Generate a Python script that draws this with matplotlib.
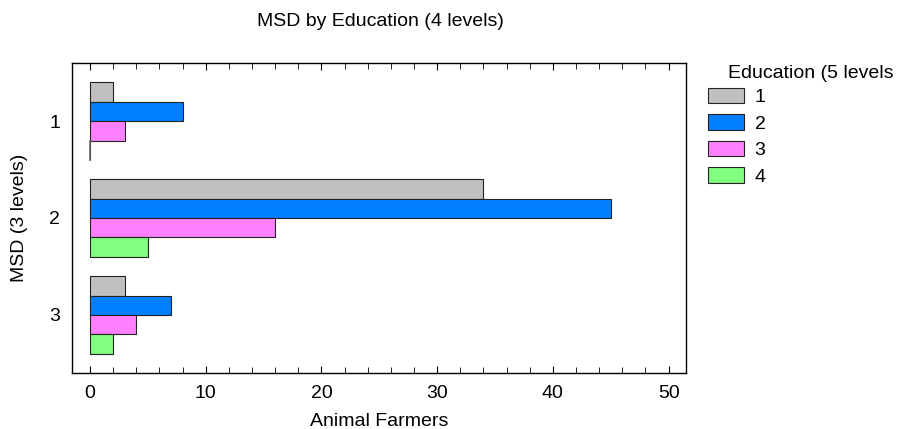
import matplotlib
matplotlib.use("Agg")
import matplotlib.pyplot as plt
from matplotlib.patches import Patch
from matplotlib.ticker import MultipleLocator
import numpy as np

plt.rcParams['font.family'] = ['Liberation Sans', 'DejaVu Sans']

msd_levels = ["1", "2", "3"]
education_levels = ["1", "2", "3", "4"]
counts = {
    "1": [2, 34, 3],
    "2": [8, 45, 7],
    "3": [3, 16, 4],
    "4": [0, 5, 2],
}
colors = ["#C0C0C0", "#0080FF", "#FF80FF", "#80FF80"]

W, H = 902, 429
FS = 14

fig = plt.figure(figsize=(W / 100, H / 100), dpi=100)
ax = fig.add_axes([72 / W, 1 - 373 / H, (686 - 72) / W, (373 - 63) / H])

y = np.arange(1, len(msd_levels) + 1)
h = 0.2
for i, (lvl, col) in enumerate(zip(education_levels, colors)):
    offs = (i - 1.5) * h
    ax.barh(y + offs, counts[lvl], height=h, color=col,
            edgecolor="#222222", linewidth=0.8)

# zero-length bar shows as a thin line at the origin
for i, lvl in enumerate(education_levels):
    for j, v in enumerate(counts[lvl]):
        if v == 0:
            yc = y[j] + (i - 1.5) * h
            ax.plot([0, 0], [yc - h / 2, yc + h / 2], color="#666666", lw=1.2)

ax.set_xlim(-1.56, 51.5)
ax.set_ylim(3.6, 0.4)
ax.set_yticks(y)
ax.set_yticklabels(msd_levels)
ax.xaxis.set_major_locator(MultipleLocator(10))
ax.xaxis.set_minor_locator(MultipleLocator(2))
ax.tick_params(axis="x", which="both", direction="in", top=True, labelsize=FS, pad=8.5)
ax.tick_params(axis="x", which="major", length=5)
ax.tick_params(axis="x", which="minor", length=4)
ax.tick_params(axis="y", length=0, labelsize=FS, pad=8.5)
for s in ax.spines.values():
    s.set_linewidth(1)

ax.set_xlabel("Animal Farmers", fontsize=FS, va="center")
ax.xaxis.set_label_coords(0.5, -(422 - 373) / 310)
ax.set_ylabel("MSD (3 levels)", fontsize=FS, va="center")
ax.yaxis.set_label_coords((20 - 72) / 614, 0.5)

fig.text(380 / W, 1 - 22 / H, "MSD by Education (4 levels)",
         ha="center", va="center", fontsize=FS)

fig.text(728 / W, 1 - 73 / H, "Education (5 levels",
         ha="left", va="center", fontsize=FS)
handles = [Patch(facecolor=c, edgecolor="#222222", linewidth=0.8) for c in colors]
fig.legend(handles, education_levels,
           loc="upper left", bbox_to_anchor=(708 / W, 1 - 88 / H),
           frameon=False, fontsize=FS, borderpad=0, borderaxespad=0,
           handlelength=36 / 19.44, handleheight=16 / 19.44, handletextpad=0.55,
           labelspacing=0.42)

fig.savefig("out.png", dpi=100)
